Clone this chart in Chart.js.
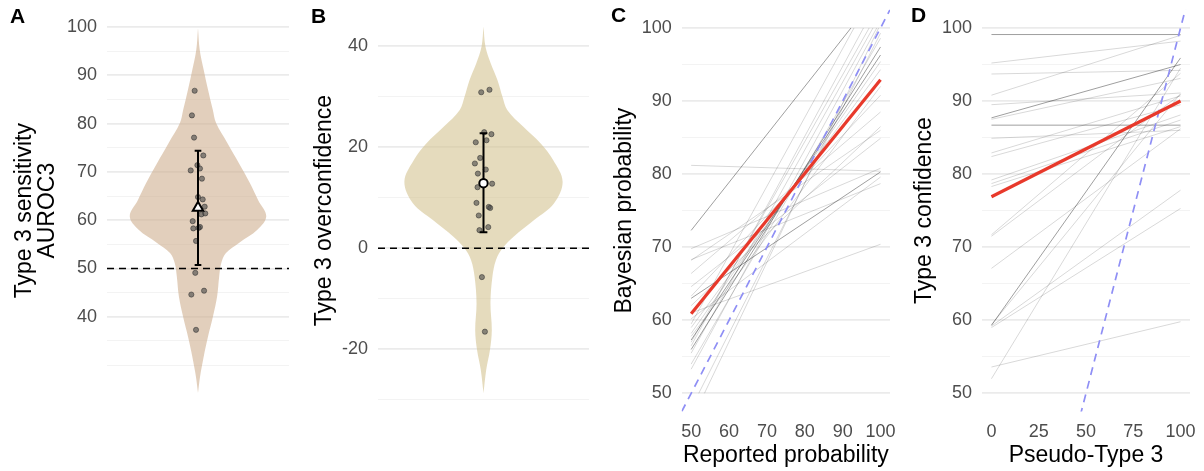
<!DOCTYPE html>
<html>
<head>
<meta charset="utf-8">
<script src="https://cdn.jsdelivr.net/npm/chart.js@4.4.1/dist/chart.umd.min.js"></script>
<style>
  body { margin: 0; background: #fff; }
  #wrap { position: relative; width: 1204px; height: 471px; font-family: "Liberation Sans", Arial, sans-serif; }
  canvas { position: absolute; top: 0; }
  .tag { position: absolute; font-weight: bold; font-size: 21px; line-height: 1; color: #000; }
</style>
</head>
<body>
<div id="wrap">
  <canvas id="panelA" width="300" height="471" style="left:0"></canvas>
  <canvas id="panelB" width="300" height="471" style="left:300px"></canvas>
  <canvas id="panelC" width="300" height="471" style="left:600px"></canvas>
  <canvas id="panelD" width="304" height="471" style="left:900px"></canvas>
  <div class="tag" style="left:10px;top:5px">A</div>
  <div class="tag" style="left:311px;top:5px">B</div>
  <div class="tag" style="left:611px;top:4px">C</div>
  <div class="tag" style="left:911px;top:4px">D</div>
</div>
<script>
// ---- panel A: type 3 sensitivity (AUROC3) ----
const aurocVals = [86.8, 81.7, 77.1, 73.4, 71.4, 70.7, 70.3, 68.6, 64.8, 64.3, 62.8, 61.2, 61.4, 59.8, 58.3, 58.6, 58.4, 55.7, 49.1, 45.4, 44.6, 37.3];
const aurocJitter = [-0.022, -0.040, -0.026, 0.035, -0.004, 0.013, -0.048, 0.026, 0, 0.031, 0.044, 0.022, 0.048, -0.035, -0.031, 0.013, 0.004, -0.013, -0.018, 0.040, -0.044, -0.013];
const aurocMean = 62.6;
const aurocCI = [50.7, 74.4];
const aurocDensY = [24.2, 27.6, 31.8, 35.9, 40.1, 44.2, 48.3, 51.1, 53.2, 55.3, 58, 60.8, 64.2, 67.7, 71.8, 76, 80.1, 82.9, 87, 91.1, 95.3, 99.8];
const aurocDens = [0, 0.03, 0.084, 0.147, 0.22, 0.28, 0.31, 0.34, 0.41, 0.60, 0.87, 1.0, 0.88, 0.76, 0.60, 0.43, 0.265, 0.216, 0.147, 0.084, 0.025, 0];
const aurocGrid = [30, 35, 40, 45, 50, 55, 60, 65, 70, 75, 80, 85, 90, 95, 100];
const aurocLabels = [40, 50, 60, 70, 80, 90, 100];

// ---- panel B: type 3 overconfidence ----
const overVals = [30.9, 31.4, 23.0, 22.6, 21.0, 21.4, 17.9, 16.8, 15.6, 14.8, 12.1, 12.8, 9.0, 8.2, 8.0, 6.5, 3.6, 4.2, -5.7, -16.5];
const overJitter = [-0.013, 0.034, 0.004, 0.045, -0.044, 0.017, -0.019, -0.049, 0.013, -0.032, -0.034, 0.049, -0.040, 0.030, 0.038, -0.027, -0.023, 0.027, -0.009, 0.008];
const overMean = 12.9;
const overCI = [3.2, 22.8];
const overDensY = [-28.7, -24.1, -20.1, -16.2, -10.9, -5.6, -2.3, 0, 2.3, 5.6, 8.9, 13.2, 17.5, 20.8, 24.1, 27.4, 30, 33.3, 36.6, 39.9, 43.9];
const overDens = [0, 0.034, 0.082, 0.105, 0.088, 0.113, 0.158, 0.24, 0.38, 0.64, 0.89, 1.0, 0.88, 0.72, 0.50, 0.30, 0.24, 0.177, 0.092, 0.025, 0];
const overGrid = [-30, -20, -10, 0, 10, 20, 30, 40];
const overLabels = [-20, 0, 20, 40];

// ---- panel C: bayesian vs reported probability, one line per subject [x0, y0, x1, y1] ----
const bayesLines = [
  [50, 81.2, 100, 80.4], [50, 72.3, 92.2, 100], [50, 69.8, 100, 80.8], [50, 68.3, 100, 78.7],
  [50, 68.2, 100, 86.0], [50, 66.4, 100, 88.5], [50, 64.6, 100, 84.9], [50, 63.3, 100, 90.8],
  [50, 63.0, 100, 80.3], [50, 61.0, 100, 70.4], [50, 60.2, 100, 79.6], [50, 59.0, 100, 94.3],
  [50, 58.2, 100, 95.4], [50, 57.3, 100, 96.3], [50, 57.0, 97, 100], [50, 56.5, 95.5, 100],
  [50, 56.0, 100, 97.4], [50, 55.5, 98, 100], [50, 54.0, 100, 98.6], [50, 53.3, 99, 100],
  [52, 50, 100, 99.3], [53.5, 50, 99.5, 100], [50, 62.0, 100, 86.5], [50, 59.5, 93, 100],
  [50, 57.8, 100, 92.0]
];
const bayesFit = [[50, 60.9], [100, 92.9]];
const probTicks = [50, 60, 70, 80, 90, 100];
const probGrid = [50, 55, 60, 65, 70, 75, 80, 85, 90, 95, 100];

// ---- panel D: type 3 confidence vs pseudo-type 3 ----
const confLines = [
  [0, 99.1, 100, 99.1], [0, 95.2, 100, 98.2], [0, 93.7, 100, 94.2], [0, 90.8, 100, 99.0],
  [0, 89.5, 100, 91.1], [0, 87.7, 100, 95.0], [0, 87.5, 100, 93.1], [0, 86.7, 100, 86.7],
  [0, 84.9, 100, 86.0], [0, 82.9, 100, 90.7], [0, 82.4, 100, 89.5], [0, 79.2, 100, 88.1],
  [0, 78.7, 100, 87.4], [0, 78.3, 100, 86.5], [0, 71.7, 100, 93.8], [0, 71.5, 100, 90.9],
  [0, 67.1, 100, 86.2], [0, 59.3, 100, 95.9], [0, 59.2, 100, 77.8], [0, 59.0, 100, 75.3],
  [0, 59.4, 100, 91.0], [0, 53.6, 100, 59.8], [0, 52.0, 100, 94.5]
];
const confFit = [[0, 76.9], [100, 90.0]];
const pseudoTicks = [0, 25, 50, 75, 100];

// styling helpers (kept apart from the data)
const bayesDark = [1, 8, 13, 16];
const confDark = [0, 5, 7, 17];
const FONT = '"Liberation Sans", Arial, sans-serif';
const PLOT_TOP = 9.7, PLOT_BOTTOM = 411.6, H = 471;

function noPad(s) {
  s.paddingTop = 0; s.paddingBottom = 0; s.paddingLeft = 0; s.paddingRight = 0;
}

function yScale(min, max, gridVals, labelVals, title, width) {
  return {
    min: min, max: max,
    afterBuildTicks: s => { s.ticks = gridVals.map(v => ({ value: v })); },
    afterFit: s => { s.width = width; noPad(s); },
    ticks: {
      autoSkip: false, padding: 10, color: '#4d4d4d',
      font: { family: FONT, size: 18 },
      callback: v => labelVals.includes(v) ? String(v) : ''
    },
    grid: {
      drawTicks: false,
      color: c => (c.tick && labelVals.includes(c.tick.value)) ? '#ebebeb' : '#f3f3f3',
      lineWidth: c => (c.tick && labelVals.includes(c.tick.value)) ? 1.8 : 1
    },
    border: { display: false },
    title: {
      display: true, text: title, color: '#000',
      font: { family: FONT, size: 23, lineHeight: 1 },
      padding: { top: 13, bottom: 0 }
    }
  };
}

function xScale(min, max, tickVals, title) {
  return {
    type: 'linear', min: min, max: max,
    afterBuildTicks: s => { s.ticks = tickVals.map(v => ({ value: v })); },
    afterFit: s => { s.height = H - PLOT_BOTTOM; noPad(s); },
    ticks: { autoSkip: false, padding: 9.5, maxRotation: 0, color: '#4d4d4d', font: { family: FONT, size: 18 } },
    grid: { display: false, drawTicks: false },
    border: { display: false },
    title: {
      display: true, text: title, color: '#000',
      font: { family: FONT, size: 23, lineHeight: 1 },
      padding: { top: 0, bottom: 3.5 }
    }
  };
}

function violinChart(id, vals, jitter, mean, ci, densY, dens, yMin, yMax, gridVals, labelVals, title, yWidth, fill, refY, meanStyle) {
  const outline = densY.map((y, i) => ({ x: 1 + 0.45 * dens[i], y: y }))
    .concat(densY.slice().reverse().map((y, i) => ({ x: 1 - 0.45 * dens[dens.length - 1 - i], y: y })));
  const capW = 0.022;
  new Chart(document.getElementById(id), {
    type: 'scatter',
    data: {
      datasets: [
        { data: outline, showLine: true, fill: 'shape', backgroundColor: fill, borderWidth: 0, borderColor: 'rgba(0,0,0,0)', pointRadius: 0, tension: 0.35, order: 10 },
        { data: [{ x: 0.4, y: refY }, { x: 1.6, y: refY }], showLine: true, borderColor: '#000', borderWidth: 1.6, borderDash: [7, 5], pointRadius: 0, order: 8 },
        { data: vals.map((v, i) => ({ x: 1 + jitter[i], y: v })), pointRadius: 2.6, backgroundColor: 'rgba(70,70,70,0.6)', borderColor: 'rgba(40,40,40,0.7)', borderWidth: 0.7, order: 6 },
        { data: [{ x: 1 - capW, y: ci[1] }, { x: 1 + capW, y: ci[1] }, { x: 1, y: ci[1] }, { x: 1, y: ci[0] }, { x: 1 - capW, y: ci[0] }, { x: 1 + capW, y: ci[0] }],
          showLine: true, borderColor: '#000', borderWidth: 2, pointRadius: 0, order: 4 },
        { data: [{ x: 1, y: mean }], pointStyle: meanStyle, pointRadius: meanStyle === 'triangle' ? 6 : 4.2, backgroundColor: '#fff', borderColor: '#000', borderWidth: 2, order: 2 }
      ]
    },
    options: {
      responsive: false, animation: false,
      layout: { autoPadding: false, padding: { top: PLOT_TOP, right: 11, bottom: H - PLOT_BOTTOM, left: 0 } },
      plugins: { legend: { display: false }, tooltip: { enabled: false } },
      scales: {
        x: { type: 'linear', min: 0.4, max: 1.6, display: false },
        y: yScale(yMin, yMax, gridVals, labelVals, title, yWidth)
      }
    }
  });
}

function linesChart(id, lines, darkIdx, fit, xMin, xMax, xTicks, xTitle, yTitle, yWidth, padRight) {
  const sets = lines.map((l, i) => ({
    data: [{ x: l[0], y: l[1] }, { x: l[2], y: l[3] }],
    showLine: true, pointRadius: 0, borderWidth: 0.7,
    borderColor: darkIdx.includes(i) ? 'rgba(0,0,0,0.55)' : 'rgba(0,0,0,0.22)', order: 10
  }));
  sets.push({ data: [{ x: xMin, y: xMin }, { x: 110, y: 110 }], showLine: true, pointRadius: 0, borderColor: '#8f8ff5', borderWidth: 1.7, borderDash: [8, 6], order: 5 });
  sets.push({ data: fit.map(p => ({ x: p[0], y: p[1] })), showLine: true, pointRadius: 0, borderColor: '#e8392b', borderWidth: 3.2, order: 3 });
  new Chart(document.getElementById(id), {
    type: 'scatter',
    data: { datasets: sets },
    options: {
      responsive: false, animation: false,
      layout: { autoPadding: false, padding: { top: PLOT_TOP, right: padRight, bottom: 0, left: 0 } },
      plugins: { legend: { display: false }, tooltip: { enabled: false } },
      scales: {
        x: xScale(xMin, xMax, xTicks, xTitle),
        y: yScale(47.5, 102.5, probGrid, probTicks, yTitle, yWidth)
      }
    }
  });
}

violinChart('panelA', aurocVals, aurocJitter, aurocMean, aurocCI, aurocDensY, aurocDens, 20.37, 103.58,
  aurocGrid, aurocLabels, ['Type 3 sensitivity', 'AUROC3'], 107, 'rgba(207,175,143,0.6)', 50, 'triangle');
violinChart('panelB', overVals, overJitter, overMean, overCI, overDensY, overDens, -32.33, 47.25,
  overGrid, overLabels, 'Type 3 overconfidence', 78, 'rgba(212,195,145,0.6)', 0, 'circle');
linesChart('panelC', bayesLines, bayesDark, bayesFit, 47.5, 102.5, probTicks, 'Reported probability', 'Bayesian probability', 81.7, 10);
linesChart('panelD', confLines, confDark, confFit, -5, 105, pseudoTicks, 'Pseudo-Type 3', 'Type 3 confidence', 82, 14);
</script>
</body>
</html>
